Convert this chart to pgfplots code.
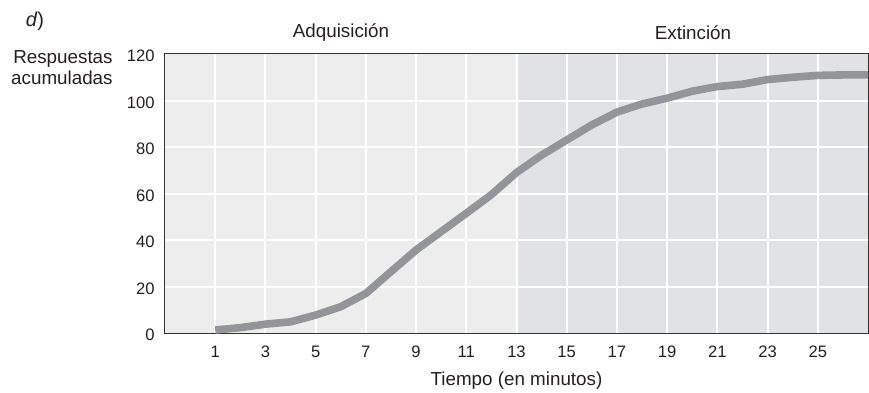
\documentclass[border=0pt]{standalone}
\usepackage{pgfplots}
\pgfplotsset{compat=1.18}
\usepackage{fontspec}
\setmainfont{Liberation Sans}
\definecolor{shadeA}{HTML}{EDEDED}
\definecolor{shadeB}{HTML}{E1E2E4}
\definecolor{linegray}{HTML}{939598}
\definecolor{txt}{HTML}{231F20}
\begin{document}
\begin{tikzpicture}
\path[use as bounding box] (-82.5pt,-29.5pt) rectangle (352pt,166.5pt);
\begin{axis}[
  at={(0,0)}, anchor=south west,
  scale only axis,
  width=351.5pt, height=139.5pt,
  xmin=-1, xmax=27, ymin=0, ymax=120,
  xtick={1,3,...,25}, ytick={0,20,...,120},
  major tick length=0pt,
  axis line style={black!80, line width=0.6pt},
  /pgf/number format/assume math mode=true,
  ticklabel style={font=\fontsize{8.3}{10}\selectfont, text=txt},
  yticklabel style={inner sep=0pt, anchor=east, xshift=-5pt, yshift=-1pt},
  xticklabel style={inner sep=0pt, anchor=north, yshift=-6.5pt},
  unbounded coords=jump,
]
\addplot[draw=none, fill=shadeA, forget plot] coordinates {(-1,120) (13,120)} \closedcycle;
\addplot[draw=none, fill=shadeB, forget plot] coordinates {(13,120) (27,120)} \closedcycle;
\addplot[white, line width=1pt, forget plot] coordinates {
(1,0)(1,120) (nan,nan) (3,0)(3,120) (nan,nan) (5,0)(5,120) (nan,nan) (7,0)(7,120) (nan,nan)
(9,0)(9,120) (nan,nan) (11,0)(11,120) (nan,nan) (13,0)(13,120) (nan,nan) (15,0)(15,120) (nan,nan)
(17,0)(17,120) (nan,nan) (19,0)(19,120) (nan,nan) (21,0)(21,120) (nan,nan) (23,0)(23,120) (nan,nan)
(25,0)(25,120) (nan,nan)
(-1,20)(27,20) (nan,nan) (-1,40)(27,40) (nan,nan) (-1,60)(27,60) (nan,nan) (-1,80)(27,80) (nan,nan)
(-1,100)(27,100)};
\addplot[linegray, line width=3.8pt, line join=round, line cap=butt] coordinates {
(1,1.3) (2,2.3) (3,3.8) (4,4.8) (5,7.7) (6,11.3) (7,17) (8,26.4) (9,35.7) (10,43.6)
(11,51.5) (12,59.5) (13,69) (14,76.5) (15,83) (16,89.5) (17,95) (18,98.5) (19,101)
(20,104) (21,106) (22,107) (23,109) (24,110) (25,110.8) (26,111) (27,111)};
\end{axis}
\begin{scope}[every node/.style={text=txt}]
\node[font=\fontsize{10}{11}\selectfont] at (-65pt,156pt) {\textit{d})};
\node[font=\fontsize{9.4}{10.5}\selectfont] at (88pt,150pt) {Adquisición};
\node[font=\fontsize{9.4}{10.5}\selectfont] at (264pt,150pt) {Extinción};
\node[font=\fontsize{9.4}{10.5}\selectfont, anchor=east, align=right, inner sep=0pt] at (-26pt,132.75pt) {Respuestas\\acumuladas};
\node[font=\fontsize{9.4}{10.5}\selectfont] at (175.75pt,-24pt) {Tiempo (en minutos)};
\end{scope}
\end{tikzpicture}
\end{document}
